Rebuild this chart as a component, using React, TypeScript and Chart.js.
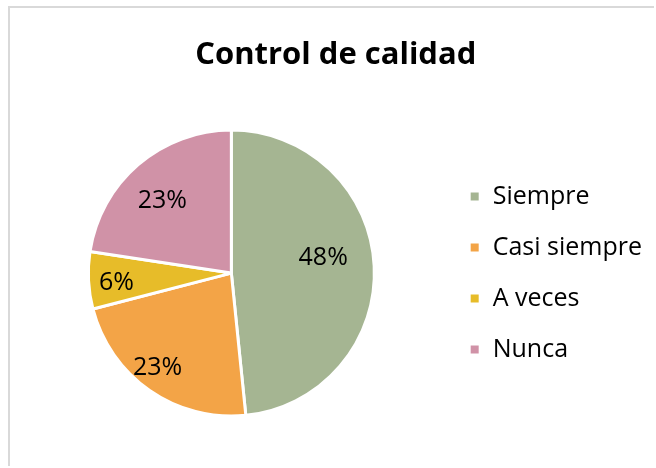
import React, { useEffect, useRef } from "react";
import { Chart, registerables } from "chart.js";

Chart.register(...registerables);

const TITLE = "Control de calidad";
const categories = ["Siempre", "Casi siempre", "A veces", "Nunca"];
const counts = [15, 7, 2, 7];
const colors = ["#A5B592", "#F3A447", "#E7BC29", "#D092A7"];

const FONT = '"Open Sans", "DejaVu Sans", sans-serif';

const sliceLabels = {
  id: "sliceLabels",
  afterDatasetsDraw(chart: any, _args: any, opts: any) {
    const ctx = chart.ctx;
    const meta = chart.getDatasetMeta(0);
    const data = chart.data.datasets[0].data as number[];
    const total = data.reduce((a: number, b: number) => a + b, 0);
    ctx.save();
    ctx.font = `${opts.size}px ${FONT}`;
    ctx.fillStyle = "#000";
    ctx.textAlign = "center";
    ctx.textBaseline = "alphabetic";
    meta.data.forEach((arc: any, i: number) => {
      const p = arc.getProps(["x", "y", "startAngle", "endAngle", "outerRadius"], true);
      const mid = (p.startAngle + p.endAngle) / 2;
      const r = p.outerRadius * opts.radiusFraction;
      const n = opts.nudges[i] || [0, 0];
      const px = p.x + Math.cos(mid) * r + n[0];
      const py = p.y + Math.sin(mid) * r + n[1];
      ctx.fillText(`${Math.round((data[i] / total) * 100)}%`, px, py + opts.size * 0.357);
    });
    ctx.restore();
  },
};

export default function App() {
  const ref = useRef<HTMLCanvasElement>(null);
  useEffect(() => {
    if (!ref.current) return;
    const chart = new Chart(ref.current, {
      type: "pie",
      data: {
        labels: categories,
        datasets: [
          {
            data: counts,
            backgroundColor: colors,
            borderColor: "#ffffff",
            borderWidth: 3,
          },
        ],
      },
      options: {
        responsive: false,
        animation: false,
        devicePixelRatio: 1,
        radius: 143,
        layout: { padding: { left: 9.5, right: 2, top: 0, bottom: 0 } },
        plugins: {
          title: {
            display: true,
            text: TITLE,
            color: "#000",
            font: { family: FONT, size: 31, weight: "bold" },
            padding: { top: 29, bottom: 6 },
          },
          legend: {
            position: "right",
            fullSize: false,
            labels: {
              boxWidth: 11,
              boxHeight: 11,
              padding: 26,
              color: "#000",
              font: { family: FONT, size: 25 },
            },
          },
          tooltip: { enabled: false },
          sliceLabels: {
            size: 25,
            radiusFraction: 0.72,
            nudges: [[-11, -12], [-15, 8], [-12, 3], [-2, 4]],
          },
        },
      } as any,
      plugins: [sliceLabels],
    });
    return () => chart.destroy();
  }, []);
  return (
    <div
      style={{
        position: "absolute",
        top: 6,
        left: 8,
        width: 646,
        height: 460,
        boxSizing: "border-box",
        borderTop: "2px solid #d9d9d9",
        borderLeft: "2px solid #d9d9d9",
        overflow: "hidden",
      }}
    >
      <canvas ref={ref} width={644} height={458} style={{ display: "block" }} />
    </div>
  );
}
